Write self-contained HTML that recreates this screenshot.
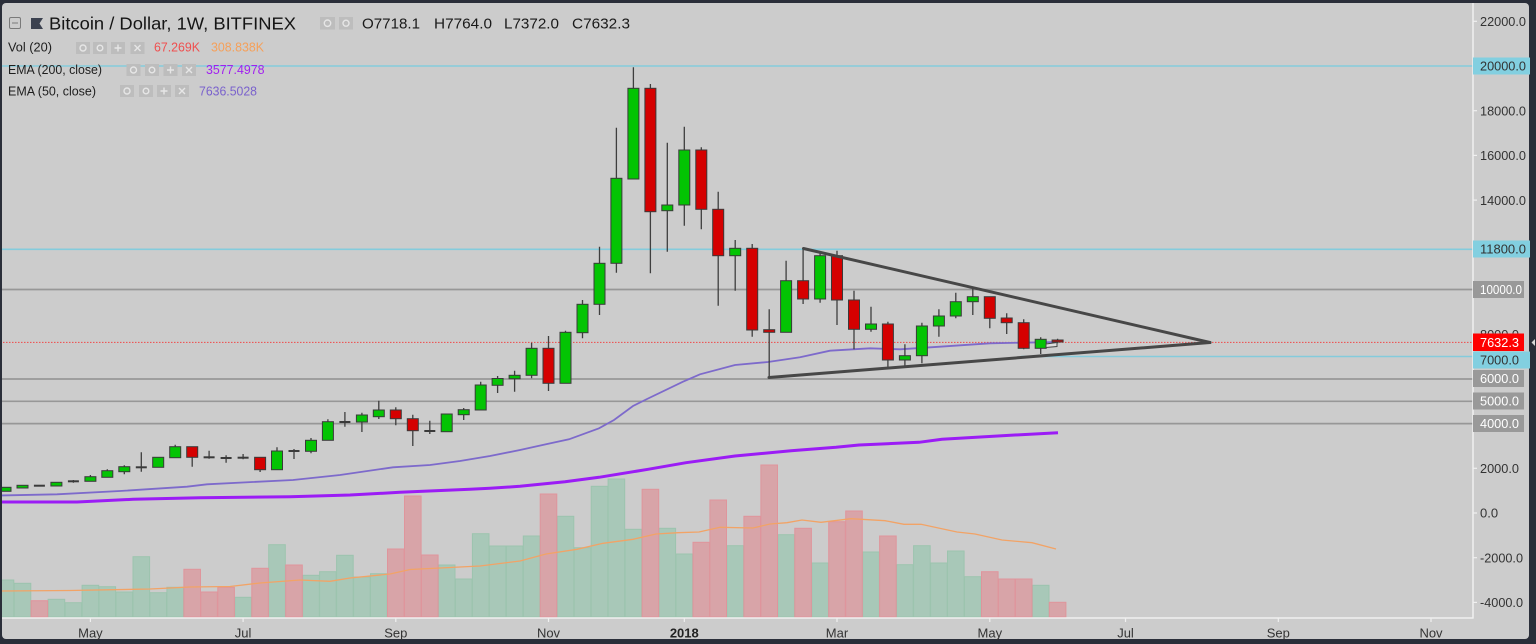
<!DOCTYPE html>
<html><head><meta charset="utf-8">
<style>
html,body{margin:0;padding:0;background:#2a2e39;width:1536px;height:644px;overflow:hidden}
svg{display:block}
text{font-family:"Liberation Sans",sans-serif}
</style></head><body>
<svg width="1536" height="644" viewBox="0 0 1536 644" xmlns="http://www.w3.org/2000/svg">
<rect x="0" y="0" width="1536" height="644" fill="#2a2e39"/>
<rect x="2" y="3" width="1527" height="636" rx="4" fill="#cccccc"/>
<defs><clipPath id="pc"><rect x="2" y="3" width="1471" height="615"/></clipPath></defs>

<g clip-path="url(#pc)">
<!-- horizontal drawn lines -->
<g stroke="#84cbdc" stroke-width="1.6">
<line x1="0" y1="66" x2="1473" y2="66"/>
<line x1="0" y1="249.3" x2="1473" y2="249.3"/>
<line x1="1021" y1="356.5" x2="1473" y2="356.5"/>
</g>
<g stroke="#979797" stroke-width="1.7">
<line x1="0" y1="289.5" x2="1473" y2="289.5"/>
<line x1="0" y1="379" x2="1473" y2="379"/>
<line x1="0" y1="401.3" x2="1473" y2="401.3"/>
<line x1="0" y1="423.6" x2="1473" y2="423.6"/>
</g>
<line x1="0" y1="342.4" x2="1473" y2="342.4" stroke="#f04848" stroke-width="1" stroke-dasharray="1.5,1.5"/>

<!-- volume bars green -->
<g fill="#a8c8b8" stroke="#9cc4ae" stroke-width="1">
<rect x="-2.8" y="580" width="16.6" height="37"/>
<rect x="14.2" y="583.3" width="16.6" height="33.7"/>
<rect x="48.1" y="599.3" width="16.6" height="17.7"/>
<rect x="65.1" y="602.7" width="16.6" height="14.3"/>
<rect x="82.1" y="585.3" width="16.6" height="31.7"/>
<rect x="99" y="586.7" width="16.6" height="30.3"/>
<rect x="116" y="592" width="16.6" height="25"/>
<rect x="133" y="556.7" width="16.6" height="60.3"/>
<rect x="149.9" y="592.7" width="16.6" height="24.3"/>
<rect x="166.9" y="587.3" width="16.6" height="29.7"/>
<rect x="234.8" y="597.3" width="16.6" height="19.7"/>
<rect x="268.7" y="544.7" width="16.6" height="72.3"/>
<rect x="302.7" y="575.3" width="16.6" height="41.7"/>
<rect x="319.6" y="571.7" width="16.6" height="45.3"/>
<rect x="336.6" y="555.3" width="16.6" height="61.7"/>
<rect x="353.6" y="577" width="16.6" height="40"/>
<rect x="370.5" y="573.7" width="16.6" height="43.3"/>
<rect x="438.4" y="565" width="16.6" height="52"/>
<rect x="455.4" y="579" width="16.6" height="38"/>
<rect x="472.4" y="533.7" width="16.6" height="83.3"/>
<rect x="489.3" y="546" width="16.6" height="71"/>
<rect x="506.3" y="546" width="16.6" height="71"/>
<rect x="523.3" y="536" width="16.6" height="81"/>
<rect x="557.2" y="516.3" width="16.6" height="100.7"/>
<rect x="574.2" y="547.7" width="16.6" height="69.3"/>
<rect x="591.2" y="486.3" width="16.6" height="130.7"/>
<rect x="608.1" y="479" width="16.6" height="138"/>
<rect x="625.1" y="529.3" width="16.6" height="87.7"/>
<rect x="659" y="528.3" width="16.6" height="88.7"/>
<rect x="676" y="554" width="16.6" height="63"/>
<rect x="726.9" y="545.7" width="16.6" height="71.3"/>
<rect x="777.8" y="534.7" width="16.6" height="82.3"/>
<rect x="811.8" y="563" width="16.6" height="54"/>
<rect x="862.7" y="552" width="16.6" height="65"/>
<rect x="896.6" y="564.7" width="16.6" height="52.3"/>
<rect x="913.6" y="545.7" width="16.6" height="71.3"/>
<rect x="930.6" y="563" width="16.6" height="54"/>
<rect x="947.5" y="551" width="16.6" height="66"/>
<rect x="964.5" y="576.7" width="16.6" height="40.3"/>
<rect x="1032.4" y="585.3" width="16.6" height="31.7"/>
</g>
<!-- volume bars red -->
<g fill="#d8a4a8" stroke="#df959c" stroke-width="1">
<rect x="31.1" y="600.7" width="16.6" height="16.3"/>
<rect x="183.9" y="569.3" width="16.6" height="47.7"/>
<rect x="200.8" y="592" width="16.6" height="25"/>
<rect x="217.8" y="587.3" width="16.6" height="29.7"/>
<rect x="251.8" y="568.3" width="16.6" height="48.7"/>
<rect x="285.7" y="565" width="16.6" height="52"/>
<rect x="387.5" y="549" width="16.6" height="68"/>
<rect x="404.5" y="496" width="16.6" height="121"/>
<rect x="421.5" y="555" width="16.6" height="62"/>
<rect x="540.2" y="494" width="16.6" height="123"/>
<rect x="642.1" y="489.3" width="16.6" height="127.7"/>
<rect x="693" y="542.3" width="16.6" height="74.7"/>
<rect x="709.9" y="500" width="16.6" height="117"/>
<rect x="743.9" y="516.3" width="16.6" height="100.7"/>
<rect x="760.9" y="465" width="16.6" height="152"/>
<rect x="794.8" y="528.3" width="16.6" height="88.7"/>
<rect x="828.7" y="521.7" width="16.6" height="95.3"/>
<rect x="845.7" y="511" width="16.6" height="106"/>
<rect x="879.6" y="536" width="16.6" height="81"/>
<rect x="981.5" y="571.7" width="16.6" height="45.3"/>
<rect x="998.4" y="579" width="16.6" height="38"/>
<rect x="1015.4" y="579" width="16.6" height="38"/>
<rect x="1049.3" y="602.3" width="16.6" height="14.7"/>
</g>

<!-- volume MA -->
<path d="M0,591 L70,590.5 L150,589 L190,587 L230,586.5 L260,583 L300,580 L330,581.3 L350,578 L390,574 L410,569.5 L450,567.5 L480,566 L520,561 L546,554 L577,549.3 L603,543.3 L633,539.3 L656,534 L678,532.7 L699,532 L720,527.3 L753,528 L770,524 L787,522.7 L802,520 L821,522.3 L851,518.7 L885,520.7 L904,524.3 L921,524.3 L957,532 L975,534 L1002,540 L1032,542.7 L1056,549" fill="none" stroke="#f2a366" stroke-width="1.3"/>

<!-- EMA 200 -->
<path d="M0,502 L77,502 L133,499.3 L200,497.7 L290,496.7 L350,495 L400,492.3 L470,489.3 L490,488.3 L520,486.3 L565,481.7 L599,477.3 L648,469.3 L686,462.7 L735,456 L791,450.7 L836,447.3 L859,445 L919,442.3 L942,439.3 L1002,435.7 L1058,432.7" fill="none" stroke="#9b1cf5" stroke-width="3"/>
<!-- EMA 50 -->
<path d="M0,495.5 L57,494.3 L120,491 L187,486.7 L207,484.3 L293,480 L340,475 L393,467.3 L430,465 L460,461 L490,456 L520,450 L546,444.3 L569,439.3 L599,428.3 L614,420 L633,406 L646,399.5 L683,381.7 L700,374.3 L735,365 L768,362 L800,357.3 L830,350.7 L870,348.3 L900,349.3 L940,346.7 L990,343.3 L1058,342" fill="none" stroke="#7d6acb" stroke-width="1.8"/>

<!-- wicks -->
<path fill="none" stroke="#3e3e3e" stroke-width="1.3" d="M5.5,487.3V491.3 M22.5,485.3V488 M73.4,480V482.7 M90.4,475V481.3 M107.3,469.3V477.3 M124.3,465.3V474.3 M141.3,452.3V471.7 M175.2,444.7V457.7 M192.2,446.7V466.7 M209.1,450.7V458.7 M226.1,455.3V462.7 M243.1,454V459.3 M260.1,457.3V472 M277,447.3V469.7 M294,449V459 M311,438V453.3 M327.9,419.3V440.3 M344.9,412V426.7 M361.9,412.7V432 M378.8,400.7V419 M395.8,407.3V425.3 M412.8,414.7V446 M429.8,420.7V434 M463.7,408V420 M480.7,381.7V410 M497.6,376V393 M514.6,370.7V391.7 M531.6,342.7V378.3 M548.5,336V391 M565.5,330.7V383.3 M582.5,300V338.3 M599.5,246.7V315 M616.4,127.7V272.7 M633.4,67.3V179 M650.4,84V273.3 M667.3,142.7V251.7 M684.3,126.7V225.7 M701.3,147.3V229.3 M718.2,191.7V305.7 M735.2,240V290.7 M752.2,244V336.7 M769.2,309.3V377 M786.1,260.7V332.3 M803.1,248.3V304 M820.1,253.3V302.7 M837,250.7V325 M854,290.7V349.3 M871,306.7V331.7 M887.9,321.7V366.7 M904.9,344.3V366.7 M921.9,322.7V363.3 M938.9,309.3V336.7 M955.8,292.7V318.3 M972.8,288.3V315 M989.8,296.7V328.3 M1006.7,313.3V334 M1023.7,319.3V349.3 M1040.7,337.3V354 M1057.6,338.7V343.3"/>

<!-- green bodies -->
<g fill="#03c403" stroke="#3a3a3a" stroke-width="1">
<rect x="0" y="487.3" width="11" height="4"/>
<rect x="17" y="485.3" width="11" height="2.7"/>
<rect x="50.9" y="482.3" width="11" height="3.7"/>
<rect x="84.9" y="476.7" width="11" height="4.6"/>
<rect x="101.8" y="470.7" width="11" height="6.6"/>
<rect x="118.8" y="466.7" width="11" height="5"/>
<rect x="152.7" y="457.3" width="11" height="10"/>
<rect x="169.7" y="446.7" width="11" height="11"/>
<rect x="271.5" y="451" width="11" height="18.7"/>
<rect x="305.5" y="440.3" width="11" height="11"/>
<rect x="322.4" y="421.7" width="11" height="18.6"/>
<rect x="356.4" y="415" width="11" height="7"/>
<rect x="373.3" y="410" width="11" height="6.7"/>
<rect x="441.2" y="414" width="11" height="17.7"/>
<rect x="458.2" y="409.7" width="11" height="5"/>
<rect x="475.2" y="385" width="11" height="25"/>
<rect x="492.1" y="378.5" width="11" height="6.8"/>
<rect x="509.1" y="375.3" width="11" height="3.4"/>
<rect x="526.1" y="348.3" width="11" height="27"/>
<rect x="560" y="332.3" width="11" height="51"/>
<rect x="577" y="304.3" width="11" height="28.4"/>
<rect x="594" y="263.3" width="11" height="41"/>
<rect x="610.9" y="178.3" width="11" height="85"/>
<rect x="627.9" y="88.3" width="11" height="90.7"/>
<rect x="661.8" y="205" width="11" height="5.7"/>
<rect x="678.8" y="150" width="11" height="55"/>
<rect x="729.7" y="248.3" width="11" height="7.4"/>
<rect x="780.6" y="280.7" width="11" height="51.6"/>
<rect x="814.6" y="255.7" width="11" height="43.3"/>
<rect x="865.5" y="324" width="11" height="5.3"/>
<rect x="899.4" y="355.7" width="11" height="4.3"/>
<rect x="916.4" y="326" width="11" height="29.7"/>
<rect x="933.4" y="316" width="11" height="10"/>
<rect x="950.3" y="301.7" width="11" height="14.3"/>
<rect x="967.3" y="296.7" width="11" height="5"/>
<rect x="1035.2" y="339.3" width="11" height="9"/>
</g>
<!-- red bodies -->
<g fill="#d50000" stroke="#3a3a3a" stroke-width="1">
<rect x="186.7" y="446.7" width="11" height="10.6"/>
<rect x="254.6" y="457.3" width="11" height="12.4"/>
<rect x="390.3" y="410" width="11" height="8.7"/>
<rect x="407.3" y="418.7" width="11" height="12"/>
<rect x="543" y="348.3" width="11" height="35"/>
<rect x="644.9" y="88.3" width="11" height="123.4"/>
<rect x="695.8" y="150" width="11" height="59.3"/>
<rect x="712.7" y="209.3" width="11" height="46.4"/>
<rect x="746.7" y="248.3" width="11" height="81.7"/>
<rect x="763.7" y="329.7" width="11" height="2.6"/>
<rect x="797.6" y="280.7" width="11" height="18.3"/>
<rect x="831.5" y="255.7" width="11" height="44.3"/>
<rect x="848.5" y="300" width="11" height="29.3"/>
<rect x="882.4" y="324" width="11" height="36"/>
<rect x="984.3" y="296.7" width="11" height="21.6"/>
<rect x="1001.2" y="318" width="11" height="4.7"/>
<rect x="1018.2" y="322.7" width="11" height="25.6"/>
<rect x="1052.1" y="340" width="11" height="2"/>
</g>
<!-- doji -->
<g fill="#3a3a3a">
<rect x="33.9" y="484.7" width="11" height="2"/>
<rect x="67.9" y="480.3" width="11" height="2"/>
<rect x="135.8" y="466.3" width="11" height="2"/>
<rect x="203.6" y="456.3" width="11" height="2"/>
<rect x="220.6" y="457" width="11" height="2"/>
<rect x="237.6" y="456.7" width="11" height="2"/>
<rect x="288.5" y="450" width="11" height="2"/>
<rect x="339.4" y="421" width="11" height="2"/>
<rect x="424.3" y="430" width="11" height="2"/>
</g>

<!-- triangle drawing -->
<g stroke="#474747" stroke-width="3" fill="none" stroke-linecap="round">
<line x1="803.5" y1="248.5" x2="1210" y2="342.5"/>
<line x1="769" y1="377.5" x2="1210" y2="342.5"/>
</g>
<polygon points="1046,344 1057,342.5 1057,346.5 1046,347.5" fill="#dddddd" stroke="#444" stroke-width="1"/>
</g>

<!-- axes -->
<line x1="1473" y1="3" x2="1473" y2="618.5" stroke="#f0f0f0" stroke-width="1.5"/>
<line x1="2" y1="618" x2="1473.5" y2="618" stroke="#f0f0f0" stroke-width="1.5"/>
<g stroke="#f0f0f0" stroke-width="1.2">
<line x1="90.4" y1="618" x2="90.4" y2="622"/>
<line x1="243.1" y1="618" x2="243.1" y2="622"/>
<line x1="395.8" y1="618" x2="395.8" y2="622"/>
<line x1="548.5" y1="618" x2="548.5" y2="622"/>
<line x1="684.3" y1="618" x2="684.3" y2="622"/>
<line x1="837" y1="618" x2="837" y2="622"/>
<line x1="989.8" y1="618" x2="989.8" y2="622"/>
<line x1="1125.5" y1="618" x2="1125.5" y2="622"/>
<line x1="1278.3" y1="618" x2="1278.3" y2="622"/>
<line x1="1431" y1="618" x2="1431" y2="622"/>
<line x1="1473" y1="21.3" x2="1477" y2="21.3"/>
<line x1="1473" y1="110.7" x2="1477" y2="110.7"/>
<line x1="1473" y1="155.4" x2="1477" y2="155.4"/>
<line x1="1473" y1="200.1" x2="1477" y2="200.1"/>
<line x1="1473" y1="334.2" x2="1477" y2="334.2"/>
<line x1="1473" y1="468.3" x2="1477" y2="468.3"/>
<line x1="1473" y1="513" x2="1477" y2="513"/>
<line x1="1473" y1="557.7" x2="1477" y2="557.7"/>
<line x1="1473" y1="602.4" x2="1477" y2="602.4"/>
</g>

<!-- x labels -->
<g font-size="13" fill="#333" text-anchor="middle">
<text x="90.4" y="637.5">May</text>
<text x="243.1" y="637.5">Jul</text>
<text x="395.8" y="637.5">Sep</text>
<text x="548.5" y="637.5">Nov</text>
<text x="684.3" y="637.5" font-weight="bold" fill="#222">2018</text>
<text x="837" y="637.5">Mar</text>
<text x="989.8" y="637.5">May</text>
<text x="1125.5" y="637.5">Jul</text>
<text x="1278.3" y="637.5">Sep</text>
<text x="1431" y="637.5">Nov</text>
</g>

<!-- y labels -->
<g font-size="13" fill="#333">
<text x="1480" y="26" textLength="46" lengthAdjust="spacingAndGlyphs">22000.0</text>
<text x="1480" y="115.4" textLength="46" lengthAdjust="spacingAndGlyphs">18000.0</text>
<text x="1480" y="160.1" textLength="46" lengthAdjust="spacingAndGlyphs">16000.0</text>
<text x="1480" y="204.8" textLength="46" lengthAdjust="spacingAndGlyphs">14000.0</text>
<text x="1480" y="338.9" textLength="39" lengthAdjust="spacingAndGlyphs">8000.0</text>
<text x="1480" y="473" textLength="39" lengthAdjust="spacingAndGlyphs">2000.0</text>
<text x="1480" y="517.7">0.0</text>
<text x="1480" y="562.4" textLength="43" lengthAdjust="spacingAndGlyphs">-2000.0</text>
<text x="1480" y="607.1" textLength="43" lengthAdjust="spacingAndGlyphs">-4000.0</text>
</g>
<!-- y label boxes -->
<g font-size="13">
<rect x="1473" y="57.5" width="57" height="17" fill="#82cfe0"/>
<text x="1480" y="70.7" fill="#333" textLength="46" lengthAdjust="spacingAndGlyphs">20000.0</text>
<rect x="1473" y="240.5" width="57" height="17" fill="#82cfe0"/>
<text x="1480" y="253.7" fill="#333" textLength="46" lengthAdjust="spacingAndGlyphs">11800.0</text>
<rect x="1473" y="281" width="51" height="17" fill="#999999"/>
<text x="1480" y="294.2" fill="#fff" textLength="42" lengthAdjust="spacingAndGlyphs">10000.0</text>
<rect x="1473" y="333.5" width="51" height="17.5" fill="#ff0000"/>
<text x="1480" y="347" fill="#fff" textLength="39" lengthAdjust="spacingAndGlyphs">7632.3</text>
<rect x="1473" y="351.5" width="57" height="17" fill="#82cfe0"/>
<text x="1480" y="364.7" fill="#333" textLength="39" lengthAdjust="spacingAndGlyphs">7000.0</text>
<rect x="1473" y="370" width="51" height="17" fill="#999999"/>
<text x="1480" y="383.2" fill="#fff" textLength="39" lengthAdjust="spacingAndGlyphs">6000.0</text>
<rect x="1473" y="392.5" width="51" height="17" fill="#999999"/>
<text x="1480" y="405.7" fill="#fff" textLength="39" lengthAdjust="spacingAndGlyphs">5000.0</text>
<rect x="1473" y="415" width="51" height="17" fill="#999999"/>
<text x="1480" y="428.2" fill="#fff" textLength="39" lengthAdjust="spacingAndGlyphs">4000.0</text>
</g>
<polygon points="1535,339 1531.5,342.5 1535,346" fill="#d8d8d8"/>

<!-- header -->
<rect x="9.5" y="17.5" width="11" height="11" rx="1.5" fill="none" stroke="#7a7a7a" stroke-width="1"/>
<line x1="12" y1="23" x2="18" y2="23" stroke="#7a7a7a" stroke-width="1"/>
<polygon points="31,18 43,18 39.5,23.5 43,29 31,29" fill="#3c4250"/>
<text x="49" y="29.3" font-size="17.5" fill="#151515" textLength="247" lengthAdjust="spacingAndGlyphs">Bitcoin / Dollar, 1W, BITFINEX</text>

<g fill="#bdbdbd">
<rect x="320" y="17" width="15" height="12.5"/>
<rect x="339" y="17" width="14" height="12.5"/>
<rect x="76" y="42" width="14" height="12"/>
<rect x="93" y="42" width="14" height="12"/>
<rect x="111" y="42" width="14" height="12"/>
<rect x="130.5" y="42" width="14" height="12"/>
<rect x="126.5" y="64" width="14" height="12"/>
<rect x="145" y="64" width="14" height="12"/>
<rect x="163.5" y="64" width="14" height="12"/>
<rect x="182" y="64" width="14" height="12"/>
<rect x="120" y="85" width="14" height="12"/>
<rect x="139" y="85" width="14" height="12"/>
<rect x="157" y="85" width="14" height="12"/>
<rect x="175" y="85" width="14" height="12"/>
</g>
<g fill="none" stroke="#e6e6e6" stroke-width="1.4">
<circle cx="327.5" cy="23.2" r="3.2"/>
<circle cx="346" cy="23.2" r="3"/>
<circle cx="83" cy="48" r="3"/>
<circle cx="100" cy="48" r="2.8"/>
<path d="M118,44.5V51.5 M114.5,48H121.5"/>
<path d="M134.5,45L140.5,51 M140.5,45L134.5,51"/>
<circle cx="133.5" cy="70" r="3"/>
<circle cx="152" cy="70" r="2.8"/>
<path d="M170.5,66.5V73.5 M167,70H174"/>
<path d="M186,67L192,73 M192,67L186,73"/>
<circle cx="127" cy="91" r="3"/>
<circle cx="146" cy="91" r="2.8"/>
<path d="M164,87.5V94.5 M160.5,91H167.5"/>
<path d="M179,88L185,94 M185,88L179,94"/>
</g>

<g font-size="15" fill="#1a1a1a">
<text x="362" y="28.6" textLength="58" lengthAdjust="spacingAndGlyphs">O7718.1</text>
<text x="434" y="28.6" textLength="58" lengthAdjust="spacingAndGlyphs">H7764.0</text>
<text x="504" y="28.6" textLength="55" lengthAdjust="spacingAndGlyphs">L7372.0</text>
<text x="572" y="28.6" textLength="58" lengthAdjust="spacingAndGlyphs">C7632.3</text>
</g>

<g font-size="12.5" fill="#1e1e1e">
<text x="8" y="51.6" textLength="44" lengthAdjust="spacingAndGlyphs">Vol (20)</text>
<text x="8" y="74" textLength="94" lengthAdjust="spacingAndGlyphs">EMA (200, close)</text>
<text x="8" y="95.6" textLength="88" lengthAdjust="spacingAndGlyphs">EMA (50, close)</text>
<text x="154" y="51.6" fill="#ef4f4f" textLength="46" lengthAdjust="spacingAndGlyphs">67.269K</text>
<text x="211" y="51.6" fill="#f5a05a" textLength="53" lengthAdjust="spacingAndGlyphs">308.838K</text>
<text x="206" y="74" fill="#a11ff0" textLength="58.5" lengthAdjust="spacingAndGlyphs">3577.4978</text>
<text x="199" y="95.6" fill="#7a62cc" textLength="58" lengthAdjust="spacingAndGlyphs">7636.5028</text>
</g>
</svg>
</body></html>
